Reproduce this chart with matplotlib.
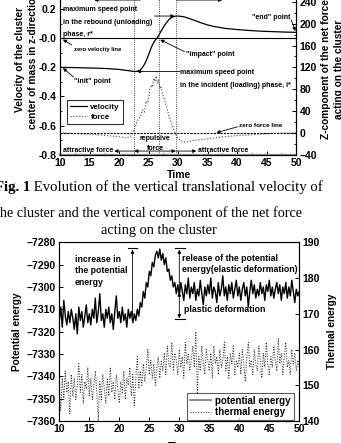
import numpy as np
import matplotlib
matplotlib.use("Agg")
import matplotlib.pyplot as plt

plt.rcParams['font.family'] = ['Liberation Sans', 'DejaVu Sans']
plt.rcParams['font.weight'] = 'bold'
plt.rcParams['axes.linewidth'] = 0.8

# ---- Fig. 1 data: velocity (left axis) and net force (right axis) ----
vel_time = [10, 12, 14, 16, 18, 20, 21, 22, 22.8, 23.5, 24, 24.5, 25, 25.5, 26, 26.5,
            27, 27.5, 28, 28.5, 29, 29.5, 30, 31, 32, 33, 34, 35, 36, 38, 40, 42,
            44, 46, 48, 50]
velocity = [-0.200, -0.201, -0.203, -0.205, -0.208, -0.214, -0.219, -0.225, -0.229,
            -0.222, -0.200, -0.165, -0.115, -0.060, -0.020, 0.005, 0.040, 0.075,
            0.105, 0.130, 0.145, 0.152, 0.153, 0.148, 0.135, 0.120, 0.105, 0.092,
            0.082, 0.068, 0.060, 0.054, 0.049, 0.046, 0.043, 0.041]

force_time = [10, 12, 14, 16, 18, 19, 20, 21, 21.8, 22.3, 22.8, 23.2, 23.6, 24.0, 24.3,
              24.6, 24.9, 25.2, 25.5, 25.7, 25.9, 26.1, 26.3, 26.5, 26.7, 26.9, 27.1,
              27.4, 27.7, 28.0, 28.3, 28.6, 28.9, 29.2, 29.5, 29.9, 30.4, 31.0, 31.6,
              32.5, 33.5, 35, 37, 40, 43, 46, 50]
force = [0, -1, -2, -3, -5, -6, -7, -9, -8, 0, 12, 25, 30, 42, 38, 58, 55, 78, 88, 84,
         100, 94, 104, 90, 98, 82, 86, 70, 62, 50, 38, 26, 18, 8, 0, -8, -14, -17, -16,
         -14, -13, -11, -8, -5, -3, -1, 0]

phase_lines = [22.6, 26.7, 29.6]

# ---- Fig. 2 data: potential energy (left) and thermal energy (right) ----
energy_time = np.linspace(10, 50, 161)
potential = [
    -7315, -7309, -7318, -7306, -7313, -7317, -7311, -7316, -7310, -7314,
    -7319, -7312, -7321, -7309, -7315, -7311, -7318, -7313, -7308, -7316,
    -7312, -7317, -7310, -7314, -7305, -7316, -7311, -7303, -7315, -7312,
    -7318, -7310, -7314, -7309, -7316, -7312, -7319, -7311, -7304, -7314,
    -7311, -7316, -7309, -7315, -7312, -7318, -7310, -7314, -7311, -7316,
    -7312, -7315, -7310, -7313, -7307, -7309, -7302, -7305, -7298, -7300,
    -7293, -7295, -7289, -7291, -7286, -7284, -7287, -7283, -7288, -7285,
    -7290, -7287, -7293, -7292, -7297, -7295, -7300, -7298, -7303, -7299,
    -7304, -7298, -7302, -7306, -7299, -7303, -7296, -7305, -7300, -7303,
    -7298, -7306, -7301, -7304, -7297, -7303, -7308, -7300, -7304, -7299,
    -7303, -7296, -7305, -7300, -7302, -7307, -7298, -7304, -7301, -7295,
    -7304, -7300, -7306, -7299, -7303, -7298, -7305, -7301, -7297, -7304,
    -7300, -7306, -7301, -7298, -7304, -7300, -7309, -7302, -7297, -7303,
    -7299, -7305, -7301, -7304, -7298, -7303, -7300, -7306, -7299, -7302,
    -7297, -7304, -7300, -7305, -7301, -7298, -7303, -7299, -7306, -7300,
    -7303, -7298, -7305, -7300, -7304, -7297, -7302, -7307, -7301, -7304,
    -7302]
thermal = [
    149, 143, 152, 146, 154, 148, 151, 142, 153, 147,
    152, 146, 150, 156, 148, 153, 145, 151, 149, 155,
    147, 152, 146, 150, 154, 148, 140, 151, 146, 153,
    149, 145, 152, 147, 155, 148, 151, 146, 153, 149,
    145, 151, 148, 154, 146, 152, 150, 155, 147, 153,
    144, 152, 158, 149, 154, 150, 156, 151, 155, 160,
    153, 157, 152, 156, 150, 155, 158, 152, 157, 154,
    159, 153, 161, 156, 155, 162, 154, 159, 157, 153,
    160, 155, 158, 152, 162, 156, 159, 154, 157, 161,
    155, 165, 148, 158, 154, 161, 156, 153, 160, 157,
    154, 159, 152, 161, 156, 158, 153, 160, 155, 157,
    162, 154, 158, 152, 159, 156, 161, 153, 157, 155,
    159, 153, 160, 156, 151, 158, 162, 155, 157, 153,
    160, 156, 154, 161, 157, 152, 159, 155, 162, 156,
    153, 158, 155, 161, 157, 154, 163, 156, 159, 153,
    158, 162, 155, 157, 153, 160, 156, 159, 154, 157,
    155]

W, H = 341.0, 443.0


def fx(x):
    return x / W


def fy(y):
    return 1 - y / H


def arrow(ax, x0, y0, x1, y1, style='-|>'):
    ax.annotate('', xy=(x1, y1), xytext=(x0, y0),
                arrowprops=dict(arrowstyle=style, color='k', lw=0.6,
                                mutation_scale=5, shrinkA=0, shrinkB=0),
                annotation_clip=False)


fig = plt.figure(figsize=(3.41, 4.43), dpi=100)

# =================== top chart ===================
ax1 = fig.add_axes([fx(60), fy(154.7), 236 / W, 174.6 / H])
ax1.set_xlim(10, 50)
ax1.set_ylim(-0.8, 0.4)
axf = ax1.twinx()
axf.set_ylim(-40, 280)

lv, = ax1.plot(vel_time, velocity, color='k', lw=0.9)
lf, = axf.plot(force_time, force, color='#444444', lw=0.8, ls=':')

ax1.axhline(0, color='k', lw=0.8)
axf.axhline(0, color='k', lw=0.8, ls=(0, (2, 1)))
for t in phase_lines:
    ax1.axvline(t, color='k', lw=0.6, ls=':')

ax1.set_xticks(np.arange(10, 51, 5))
ax1.set_xticks(np.arange(10, 51, 2.5), minor=True)
ax1.set_yticks(np.arange(-0.8, 0.41, 0.2))
ax1.set_yticklabels(['%.1f' % v for v in np.arange(-0.8, 0.41, 0.2)])
ax1.set_yticks(np.arange(-0.8, 0.41, 0.1), minor=True)
axf.set_yticks(np.arange(-40, 281, 40))
axf.set_yticks(np.arange(-40, 281, 20), minor=True)
for a in (ax1, axf):
    a.tick_params(which='major', direction='in', length=3, width=0.7, labelsize=7.5, pad=2.5)
    a.tick_params(which='minor', direction='in', length=1.5, width=0.6)
ax1.spines['bottom'].set_color('#8c8c8c')
ax1.spines['bottom'].set_linewidth(1.6)

fs = 5
# annotations
ax1.text(10.55, 0.195, 'maximum speed point', fontsize=fs, va='center')
ax1.text(10.55, 0.107, 'in the rebound (unloading)', fontsize=fs, va='center')
ax1.text(10.55, 0.027, 'phase, r*', fontsize=fs, va='center')
arrow(ax1, 26.0, 0.153, 29.4, 0.153)

ax1.text(12.3, -0.076, 'zero velocity line', fontsize=4.2, va='center')
arrow(ax1, 12.0, -0.046, 10.5, -0.008)
ax1.text(12.4, -0.298, '"init" point', fontsize=fs, va='center')
arrow(ax1, 12.3, -0.266, 10.5, -0.205)

ax1.text(31.3, -0.108, '"impact" point', fontsize=fs, va='center')
arrow(ax1, 31.1, -0.092, 27.0, -0.01)
ax1.text(45.8, 0.144, '"end" point', fontsize=fs, va='center', ha='center')
arrow(ax1, 49.2, 0.125, 49.9, 0.05)

ax1.text(30.4, -0.236, 'maximum speed point', fontsize=fs, va='center')
ax1.text(30.4, -0.321, 'in the incident (loading) phase, i*', fontsize=fs, va='center')
arrow(ax1, 30.3, -0.228, 23.0, -0.228)

ax1.text(40.3, -0.596, 'zero force line', fontsize=4.6, va='center')
arrow(ax1, 40.1, -0.608, 36.5, -0.649)

ax1.text(10.5, -0.772, 'attractive force', fontsize=fs, va='center')
arrow(ax1, 22.6, -0.775, 19.2, -0.775)
arrow(ax1, 22.6, -0.775, 29.6, -0.775, style='<|-|>')
arrow(ax1, 29.6, -0.775, 33.1, -0.775)
ax1.text(33.4, -0.772, 'attractive force', fontsize=fs, va='center')
ax1.text(26.1, -0.687, 'repulsive', fontsize=fs, va='center', ha='center')
ax1.text(26.2, -0.756, 'force', fontsize=fs, va='center', ha='center')

arrow(ax1, 23.6, 0.263, 15.8, 0.263)
arrow(ax1, 29.8, 0.263, 37.5, 0.263)

leg = ax1.legend([lv, lf], ['velocity', 'force'], loc='upper left',
                 bbox_to_anchor=(fx(66.7), fy(100)), bbox_transform=fig.transFigure,
                 fontsize=5.7, frameon=True, fancybox=False, handlelength=2.2,
                 borderpad=0.4, labelspacing=0.3, handletextpad=0.4, borderaxespad=0)
leg.get_frame().set_edgecolor('k')
leg.get_frame().set_linewidth(0.8)

fig.text(fx(20), fy(60), 'Velocity of the cluster', rotation=90, fontsize=7.3,
         ha='center', va='center')
fig.text(fx(33.5), fy(60), 'center of mass in z-direction', rotation=90, fontsize=7.3,
         ha='center', va='center')
fig.text(fx(326), fy(69), 'Z-component of the net force', rotation=90, fontsize=7.3,
         ha='center', va='center')
fig.text(fx(339), fy(69), 'acting on the cluster', rotation=90, fontsize=7.3,
         ha='center', va='center')
fig.text(fx(179), fy(175.5), 'Time', fontsize=7.5, ha='center', va='center')

# caption
serif = ['Liberation Serif', 'DejaVu Serif']
cap1 = fig.text(fx(323), fy(187), ' Evolution of the vertical translational velocity of',
                family=serif, weight='normal', fontsize=10.6, ha='right', va='center')
ax1.annotate('Fig. 1', xy=(0, 0.5), xycoords=cap1, family=serif, weight='bold',
             fontsize=10.6, ha='right', va='center')
fig.text(fx(302), fy(213.3), 'the cluster and the vertical component of the net force',
         family=serif, weight='normal', fontsize=10.3, ha='right', va='center')
fig.text(fx(158.4), fy(230), 'acting on the cluster',
         family=serif, weight='normal', fontsize=10.4, ha='center', va='center')

# =================== bottom chart ===================
ax2 = fig.add_axes([fx(59.3), fy(421), 240 / W, 178.7 / H])
ax2.set_xlim(10, 50)
ax2.set_ylim(-7360, -7280)
axt = ax2.twinx()
axt.set_ylim(140, 190)

lp, = ax2.plot(energy_time, potential, color='k', lw=1.0)
lt, = axt.plot(energy_time, thermal, color='#222222', lw=0.7, ls=':')

ax2.set_xticks(np.arange(10, 51, 5))
ax2.set_yticks(np.arange(-7360, -7279, 10))
axt.set_yticks(np.arange(140, 191, 10))
for a in (ax2, axt):
    a.tick_params(which='major', direction='in', length=3, width=0.7, labelsize=7.5, pad=2.5)

# bars and arrows
ax2.plot([21.4, 22.9], [-7282.7, -7282.7], color='k', lw=0.8)
arrow(ax2, 22.2, -7313, 22.2, -7283.3)
ax2.plot([29.3, 30.9], [-7282.7, -7282.7], color='k', lw=0.8)
arrow(ax2, 30.0, -7301, 30.0, -7283.3)
arrow(ax2, 30.0, -7302.5, 30.0, -7314, style='<|-|>')
ax2.plot([29.3, 30.9], [-7314.5, -7314.5], color='k', lw=0.8)

fs2 = 6.3
ax2.text(12.6, -7287.9, 'increase in', fontsize=fs2, va='center')
ax2.text(12.6, -7292.8, 'the potential', fontsize=fs2, va='center')
ax2.text(12.6, -7297.9, 'energy', fontsize=fs2, va='center')
ax2.text(30.4, -7287.2, 'release of the potential', fontsize=fs2, va='center')
ax2.text(30.4, -7292.1, 'energy(elastic deformation)', fontsize=fs2, va='center')
ax2.text(30.8, -7310, 'plastic deformation', fontsize=fs2, va='center')

leg2 = ax2.legend([lp, lt], ['potential energy', 'thermal energy'], loc='upper left',
                  bbox_to_anchor=(fx(187), fy(392.7)), bbox_transform=fig.transFigure,
                  fontsize=7, frameon=True, fancybox=False, handlelength=2.2,
                  borderpad=0.3, labelspacing=0.15, handletextpad=0.4, borderaxespad=0)
leg2.get_frame().set_edgecolor('#333333')
leg2.get_frame().set_linewidth(0.8)
leg2.get_lines()[0].set_color('#777777')
leg2.get_lines()[0].set_linewidth(1.2)

fig.text(fx(16.7), fy(331.7), 'Potential energy', rotation=90, fontsize=7.3,
         ha='center', va='center')
fig.text(fx(332), fy(331.7), 'Thermal energy', rotation=90, fontsize=7.3,
         ha='center', va='center')
fig.text(fx(180), fy(447), 'Time', fontsize=7.5, ha='center', va='center')

fig.savefig('out.png', dpi=100)
